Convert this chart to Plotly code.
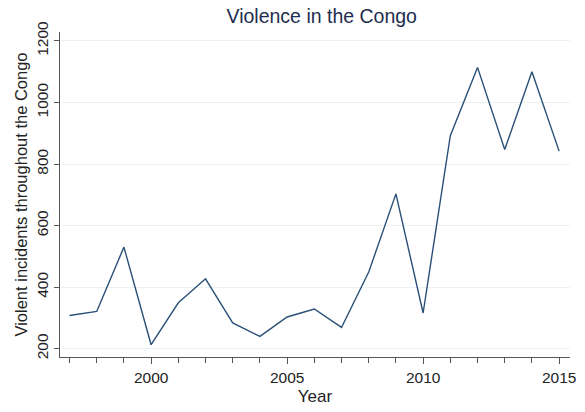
import plotly.graph_objects as go

years = list(range(1997, 2016))
incidents = [308, 321, 530, 213, 349, 427, 284, 240, 303, 329,
             269, 449, 703, 316, 892, 1114, 847, 1100, 842]

x_ticks = [2000, 2005, 2010, 2015]
y_ticks = [200, 400, 600, 800, 1000, 1200]

fig = go.Figure()
fig.add_trace(go.Scatter(
    x=years, y=incidents, mode="lines",
    line=dict(color="#2a5078", width=1.4),
    showlegend=False,
))

fig.update_layout(
    width=585, height=412,
    margin=dict(l=60, r=9, t=32, b=55),
    paper_bgcolor="white", plot_bgcolor="white",
    font=dict(family="Liberation Sans, Arial, sans-serif", color="#222222"),
    title=dict(text="Violence in the Congo", x=0.55, xanchor="center",
               y=0.96, yanchor="middle",
               font=dict(size=19.5, color="#1e2d4f")),
)

fig.update_xaxes(
    range=[1996.65, 2015.4],
    tickvals=x_ticks, ticks="outside", ticklen=6, tickcolor="#555555",
    tickfont=dict(size=15.5, color="#222222"),
    minor=dict(dtick=1, tick0=1997, ticks="outside", ticklen=5,
               tickcolor="#555555", showgrid=False),
    showline=True, linecolor="#555555", linewidth=1,
    showgrid=False, zeroline=False,
    title=dict(text="Year", font=dict(size=17, color="#222222"), standoff=5),
)

fig.update_yaxes(
    range=[173, 1229],
    tickvals=y_ticks, ticks="outside", ticklen=5, tickcolor="#555555",
    tickangle=-90, tickfont=dict(size=15.5, color="#222222"),
    showline=True, linecolor="#555555", linewidth=1,
    showgrid=True, gridcolor="#eaf2f3", gridwidth=1, zeroline=False,
    title=dict(text="Violent incidents throughout the Congo",
               font=dict(size=16.5, color="#222222"), standoff=2),
)

fig.write_html("out.html")
